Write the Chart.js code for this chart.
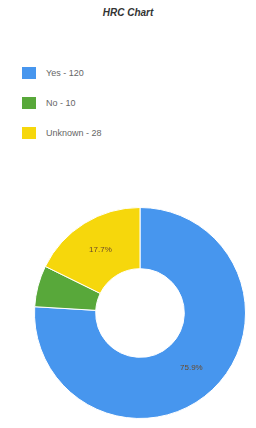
<!DOCTYPE html>
<html>
<head>
<meta charset="utf-8">
<script src="https://cdn.jsdelivr.net/npm/chart.js@4"></script>
<style>
  body { margin: 0; background: #fff; font-family: "Liberation Sans", Arial, sans-serif; }
  #wrap { position: relative; width: 256px; height: 428px; }
  #title { position: absolute; top: 7px; left: 0; width: 256px; text-align: center;
           font-size: 10px; font-weight: bold; font-style: italic; color: #333; }
  #legend { position: absolute; top: 58px; left: 22px; }
  .item { display: flex; align-items: center; height: 30px; font-size: 9px; color: #666; }
  .box { width: 14px; height: 12px; margin-right: 10px; }
  #chartBox { position: absolute; left: 30px; top: 207px; width: 220px; height: 212px; }
</style>
</head>
<body>
<div id="wrap">
  <div id="title">HRC Chart</div>
  <div id="legend"></div>
  <div id="chartBox"><canvas id="donut"></canvas></div>
</div>
<script>
const labels = ['Yes', 'No', 'Unknown'];
const values = [120, 10, 28];
const colors = ['#4796ee', '#58a83a', '#f6d70c'];

const total = values.reduce((a, b) => a + b, 0);

const legend = document.getElementById('legend');
labels.forEach((l, i) => {
    const row = document.createElement('div');
    row.className = 'item';
    row.innerHTML = `<span class="box" style="background:${colors[i]}"></span>${l} - ${values[i]}`;
    legend.appendChild(row);
});

const pctLabels = {
    id: 'pctLabels',
    afterDatasetsDraw(chart) {
        const c = chart.ctx;
        const meta = chart.getDatasetMeta(0);
        c.save();
        c.font = '8px "Liberation Sans", Arial, sans-serif';
        c.fillStyle = '#6b4a2a';
        c.textAlign = 'center';
        c.textBaseline = 'middle';
        meta.data.forEach((arc, i) => {
            const pct = values[i] / total * 100;
            if (pct < 10) return;
            const p = arc.tooltipPosition();
            c.fillText(pct.toFixed(1) + '%', p.x, p.y);
        });
        c.restore();
    }
};

new Chart(document.getElementById('donut'), {
    type: 'doughnut',
    data: {
        labels: labels,
        datasets: [{
            data: values,
            backgroundColor: colors,
            borderColor: '#ffffff',
            borderWidth: 1
        }]
    },
    options: {
        responsive: true,
        maintainAspectRatio: false,
        animation: false,
        cutout: '42%',
        plugins: { legend: { display: false }, tooltip: { enabled: false } }
    },
    plugins: [pctLabels]
});
</script>
</body>
</html>
